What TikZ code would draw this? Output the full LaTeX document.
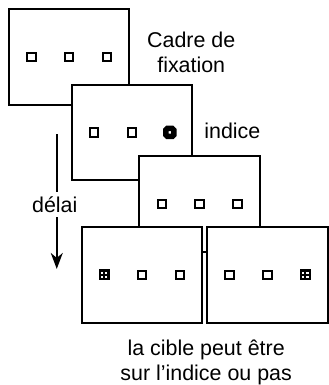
\documentclass[tikz,border=0pt]{standalone}
\usepackage{fontspec}
\setmainfont{Liberation Sans}
\usetikzlibrary{arrows.meta}

\tikzset{
  frame/.style={draw, fill=white, line width=2bp, minimum width=121bp, minimum height=96bp, inner sep=0pt},
  stim/.style={draw, fill=white, line width=2bp, minimum size=8.5bp, inner sep=0pt},
  cuebox/.style={draw, fill=white, line width=5.5bp, rounded corners=1.5bp, minimum size=8bp, inner sep=0pt},
  tgt/.style={fill=black, minimum size=11bp, inner sep=0pt},
  lbl/.style={inner sep=0pt, align=center, font=\fontsize{21.5bp}{25bp}\selectfont},
}

% petits carres blancs dans la cible
\newcommand{\tgtdots}[1]{%
  \foreach \dx/\dy in {-2.2/-2.2, 2.2/-2.2, -2.2/2.2, 2.2/2.2}
    \fill[white] (#1) ++(\dx-1.2,\dy-1.2) rectangle ++(2.4,2.4);}

\begin{document}
\begin{tikzpicture}[x=1bp, y=-1bp]
    \fill[white] (0,0) rectangle (330,385);

    % cadre de fixation
    \node[frame] (fix) at (69.5,57) {};
    \node[stim, xshift=-38bp] (fixL) at (fix) {};
    \node[stim] (fixM) at (fix) {};
    \node[stim, xshift=38bp] (fixR) at (fix) {};
    \node[lbl] (fixtxt) at (192,52.5) {Cadre de\\fixation};

    % indice
    \node[frame] (cue) at (132.5,133) {};
    \node[stim, xshift=-38bp] (cueL) at (cue) {};
    \node[stim] (cueM) at (cue) {};
    \node[cuebox, xshift=38bp] (cueR) at (cue) {};
    \node[lbl, anchor=base west] (cuetxt) at (205,139) {indice};

    % delai
    \node[frame] (gap) at (200.5,205) {};
    \node[stim, xshift=-38bp] (gapL) at (gap) {};
    \node[stim] (gapM) at (gap) {};
    \node[stim, xshift=38bp] (gapR) at (gap) {};

    % cibles
    \node[frame] (tgtA) at (142.5,276) {};
    \node[tgt, xshift=-38bp] (tgtAL) at (tgtA) {};
    \tgtdots{tgtAL}
    \node[stim] (tgtAM) at (tgtA) {};
    \node[stim, xshift=38bp] (tgtAR) at (tgtA) {};

    \node[frame] (tgtB) at (268.5,276) {};
    \node[stim, xshift=-38bp] (tgtBL) at (tgtB) {};
    \node[stim] (tgtBM) at (tgtB) {};
    \node[tgt, xshift=38bp] (tgtBR) at (tgtB) {};
    \tgtdots{tgtBR}

    \node[lbl] (tgttxt) at (207,364) {la cible peut être\\sur l’indice ou pas};

    % fleche du temps
    \coordinate (dtop) at (57,135);
    \coordinate (dbot) at (57,270);
    \node[lbl, anchor=base, text height=15bp, text depth=0pt, inner ysep=5bp] (delai) at (55,213) {délai};
    \draw[line width=2bp] (dtop) -- (delai.north -| dtop);
    \draw[line width=2bp, -{Stealth[length=16bp, width=12bp, inset=5bp]}] (delai.south -| dtop) -- (dbot);
\end{tikzpicture}
\end{document}
